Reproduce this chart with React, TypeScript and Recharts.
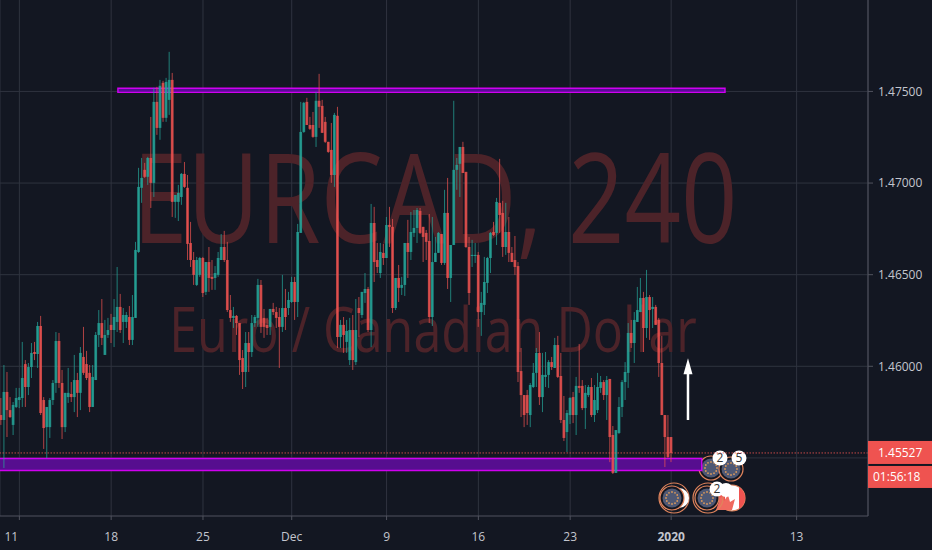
import React from 'react'
import { Bar, CartesianGrid, ComposedChart, ReferenceArea, ReferenceDot, ReferenceLine, XAxis, YAxis } from 'recharts'

const opens = [
  1.45734,1.45707,1.45860,1.45761,1.45680,1.45778,1.45816,1.45827,1.46012,1.45887,
  1.45996,1.46078,1.46067,1.46220,1.45816,1.45668,1.45668,1.45816,1.45909,1.46138,
  1.45909,1.45668,1.45832,1.45849,1.45832,1.45925,1.45855,1.46051,1.46012,1.45964,
  1.45778,1.45925,1.46171,1.46236,1.46062,1.46171,1.46226,1.46198,1.46242,1.46324,
  1.46242,1.46242,1.46269,1.46144,1.46264,1.46624,1.46974,1.47072,1.47034,1.47137,
  1.47001,1.47443,1.47301,1.47547,1.47356,1.47454,1.47563,1.46897,1.46897,1.46924,
  1.47050,1.46974,1.46673,1.46580,1.46444,1.46499,1.46591,1.46406,1.46569,1.46488,
  1.46482,1.46499,1.46580,1.46651,1.46580,1.46307,1.46264,1.46275,1.46236,1.46045,
  1.45969,1.46127,1.46078,1.46236,1.46264,1.46444,1.46264,1.46226,1.46215,1.46313,
  1.46296,1.46269,1.46215,1.46318,1.46318,1.46351,1.46460,1.46351,1.46728,1.47279,
  1.47443,1.47317,1.47317,1.47252,1.47449,1.47421,1.47334,1.47225,1.47181,1.47044,
  1.47367,1.46160,1.46226,1.46133,1.46034,1.46198,1.46023,1.46318,1.46280,1.46400,
  1.46422,1.46198,1.46782,1.46580,1.46509,1.46619,1.46591,1.46771,1.46761,1.46318,
  1.46482,1.46428,1.46444,1.46673,1.46624,1.46728,1.46755,1.46848,1.46761,1.46728,
  1.46684,1.46269,1.46569,1.46619,1.46722,1.46564,1.46837,1.46482,1.46662,1.47072,
  1.47105,1.47197,1.47061,1.46651,1.46602,1.46602,1.46608,1.46296,1.46335,1.46455,
  1.46591,1.46733,1.46728,1.46892,1.46837,1.46651,1.46733,1.46619,1.46580,1.46547,
  1.45974,1.45843,1.45843,1.45734,1.45887,1.45964,1.46073,1.45832,1.45942,1.45953,
  1.46023,1.45991,1.46116,1.45947,1.45707,1.45641,1.45734,1.45832,1.45734,1.45893,
  1.45893,1.45772,1.45843,1.45887,1.45734,1.45761,1.45882,1.45914,1.45843,1.45931,
  1.45625,1.45418,1.45636,1.45778,1.45914,1.45964,1.46182,1.46127,1.46242,1.46296,
  1.46373,1.46209,1.46378,1.46313,1.46324,1.46253,1.46018,1.45734,1.45614,1.45614,
]

const highs = [
  1.45827,1.46007,1.45969,1.45832,1.45805,1.45882,1.45882,1.46133,1.46034,1.46018,
  1.46127,1.46133,1.46242,1.46275,1.45832,1.45778,1.45827,1.45925,1.46187,1.46182,
  1.45980,1.45855,1.45991,1.45914,1.46062,1.45964,1.46105,1.46215,1.46084,1.46007,
  1.46007,1.46187,1.46307,1.46367,1.46253,1.46264,1.46286,1.46367,1.46542,1.46395,
  1.46318,1.46296,1.46329,1.46389,1.46679,1.47083,1.47137,1.47110,1.47143,1.47361,
  1.47520,1.47525,1.47563,1.47558,1.47574,1.47716,1.47601,1.46935,1.46990,1.47055,
  1.47115,1.47044,1.46788,1.46624,1.46597,1.46597,1.46597,1.46569,1.46651,1.46580,
  1.46547,1.46624,1.46722,1.46739,1.46679,1.46389,1.46324,1.46280,1.46236,1.46089,
  1.46187,1.46187,1.46280,1.46280,1.46477,1.46471,1.46313,1.46264,1.46313,1.46346,
  1.46324,1.46318,1.46499,1.46422,1.46406,1.46488,1.46488,1.46777,1.47443,1.47443,
  1.47465,1.47361,1.47388,1.47498,1.47596,1.47454,1.47361,1.47225,1.47328,1.47383,
  1.47416,1.46253,1.46269,1.46253,1.46264,1.46280,1.46367,1.46378,1.46406,1.46509,
  1.46433,1.46886,1.46870,1.46673,1.46673,1.46668,1.46815,1.46870,1.46804,1.46482,
  1.46553,1.46488,1.46673,1.46799,1.46842,1.46853,1.46864,1.46864,1.46761,1.46744,
  1.46831,1.46815,1.46706,1.46733,1.46722,1.46963,1.47028,1.46662,1.47449,1.47137,
  1.47197,1.47225,1.47061,1.46706,1.46690,1.46673,1.46624,1.46406,1.46597,1.46597,
  1.46733,1.46788,1.46919,1.47132,1.46903,1.46892,1.46815,1.46651,1.46711,1.46569,
  1.46100,1.45843,1.45871,1.45909,1.46018,1.46100,1.46187,1.46073,1.46078,1.46034,
  1.46051,1.46155,1.46166,1.46073,1.45838,1.45761,1.45832,1.45860,1.45942,1.46122,
  1.45925,1.45898,1.45898,1.45936,1.45898,1.45964,1.45947,1.45925,1.45947,1.45931,
  1.45674,1.45652,1.45832,1.45925,1.46023,1.46236,1.46253,1.46296,1.46433,1.46482,
  1.46406,1.46526,1.46389,1.46378,1.46335,1.46264,1.46166,1.45734,1.45734,1.45614,
]

const lows = [
  1.45680,1.45445,1.45614,1.45718,1.45625,1.45772,1.45772,1.45778,1.45778,1.45843,
  1.45936,1.46034,1.45991,1.45734,1.45549,1.45499,1.45609,1.45789,1.45855,1.45882,
  1.45603,1.45641,1.45800,1.45805,1.45750,1.45723,1.45761,1.45953,1.45925,1.45750,
  1.45778,1.45925,1.46105,1.46116,1.46062,1.46155,1.46127,1.46105,1.46187,1.46182,
  1.46127,1.46209,1.46116,1.46116,1.46264,1.46619,1.46892,1.47028,1.46990,1.46864,
  1.46924,1.47263,1.47236,1.47334,1.47334,1.47372,1.46815,1.46810,1.46793,1.46881,
  1.46974,1.46580,1.46542,1.46444,1.46438,1.46488,1.46378,1.46389,1.46406,1.46417,
  1.46417,1.46488,1.46580,1.46569,1.46296,1.46242,1.46209,1.46171,1.45953,1.45876,
  1.45887,1.45969,1.46051,1.46215,1.46215,1.46182,1.46155,1.46171,1.46171,1.46280,
  1.46209,1.45991,1.46187,1.46198,1.46280,1.46346,1.46253,1.46269,1.46728,1.47274,
  1.47317,1.47290,1.47247,1.47197,1.47301,1.47274,1.47219,1.47165,1.47001,1.46979,
  1.46100,1.46100,1.46073,1.46073,1.46007,1.45980,1.46007,1.46160,1.46264,1.46346,
  1.46187,1.46105,1.46460,1.46509,1.46482,1.46553,1.46591,1.46651,1.46291,1.46307,
  1.46351,1.46389,1.46384,1.46482,1.46580,1.46706,1.46673,1.46722,1.46569,1.46580,
  1.46236,1.46220,1.46569,1.46619,1.46553,1.46553,1.46422,1.46351,1.46662,1.46963,
  1.46924,1.47055,1.46646,1.46335,1.46542,1.46564,1.46215,1.46166,1.46280,1.46400,
  1.46509,1.46711,1.46662,1.46728,1.46597,1.46608,1.46569,1.46569,1.46499,1.45914,
  1.45723,1.45668,1.45680,1.45668,1.45882,1.45887,1.45789,1.45750,1.45887,1.45882,
  1.45980,1.45991,1.45936,1.45690,1.45592,1.45532,1.45685,1.45690,1.45625,1.45855,
  1.45761,1.45658,1.45832,1.45723,1.45696,1.45745,1.45855,1.45816,1.45707,1.45477,
  1.45412,1.45418,1.45630,1.45723,1.45816,1.45882,1.46100,1.46018,1.46242,1.46296,
  1.46078,1.46155,1.46144,1.46209,1.46226,1.45942,1.45734,1.45450,1.45499,1.45477,
]

const closes = [
  1.45707,1.45860,1.45761,1.45723,1.45789,1.45827,1.45832,1.45936,1.45887,1.45996,
  1.46073,1.46067,1.46220,1.45745,1.45663,1.45778,1.45816,1.45909,1.46138,1.45909,
  1.45668,1.45855,1.45855,1.45832,1.45925,1.45855,1.46073,1.45964,1.45936,1.45778,
  1.45942,1.46171,1.46236,1.46155,1.46171,1.46198,1.46198,1.46269,1.46324,1.46198,
  1.46280,1.46280,1.46144,1.46269,1.46635,1.46979,1.47028,1.47034,1.47137,1.47001,
  1.47443,1.47301,1.47531,1.47356,1.47552,1.47563,1.46897,1.46935,1.46946,1.47050,
  1.46979,1.46668,1.46580,1.46499,1.46580,1.46591,1.46400,1.46569,1.46482,1.46477,
  1.46509,1.46591,1.46651,1.46580,1.46307,1.46264,1.46275,1.46236,1.46034,1.45969,
  1.46127,1.46078,1.46236,1.46269,1.46444,1.46215,1.46215,1.46209,1.46313,1.46296,
  1.46264,1.46215,1.46318,1.46269,1.46362,1.46460,1.46351,1.46733,1.47279,1.47438,
  1.47317,1.47296,1.47252,1.47449,1.47416,1.47274,1.47225,1.47170,1.47044,1.47372,
  1.46160,1.46226,1.46171,1.46193,1.46198,1.46034,1.46198,1.46291,1.46406,1.46422,
  1.46198,1.46782,1.46569,1.46542,1.46624,1.46591,1.46771,1.46761,1.46318,1.46482,
  1.46428,1.46444,1.46673,1.46624,1.46733,1.46755,1.46853,1.46728,1.46706,1.46679,
  1.46269,1.46569,1.46619,1.46728,1.46564,1.46837,1.46482,1.46662,1.47072,1.47099,
  1.47197,1.47055,1.46651,1.46400,1.46608,1.46608,1.46296,1.46346,1.46460,1.46591,
  1.46728,1.46717,1.46897,1.46826,1.46651,1.46733,1.46619,1.46569,1.46542,1.45969,
  1.45843,1.45734,1.45745,1.45898,1.45964,1.46073,1.45832,1.45953,1.45953,1.46023,
  1.45996,1.46116,1.45942,1.45707,1.45609,1.45745,1.45827,1.45734,1.45893,1.45882,
  1.45772,1.45855,1.45887,1.45734,1.45816,1.45887,1.45914,1.45843,1.45925,1.45614,
  1.45418,1.45652,1.45778,1.45914,1.45969,1.46182,1.46127,1.46253,1.46307,1.46373,
  1.46209,1.46378,1.46307,1.46324,1.46226,1.46018,1.45734,1.45614,1.45505,1.45527,
]

const xTickValues = [6, 36, 66, 95, 126, 156, 186, 219, 260]
const xTickLabels = ['11', '18', '25', 'Dec', '9', '16', '23', '2020', '13']
const priceTicks = [1.46, 1.465, 1.47, 1.475]
const gridPrices = [1.455, 1.46, 1.465, 1.47, 1.475]
const lastPrice = 1.45527
const countdown = '01:56:18'
const euStars = [0, 1, 2, 3, 4, 5, 6, 7, 8, 9, 10, 11]

const candles = opens.map((open, i) => ({ i, open, close: closes[i], range: [lows[i], highs[i]] }))

const BG = '#131722'
const GREEN = '#26a69a'
const RED = '#ef5350'
const FONT = '"Open Sans", "Noto Sans", sans-serif'

const Candle = (props: any) => {
  const { x, y, width, height, payload } = props
  const [low, high] = payload.range
  const perUnit = height / (high - low || 1)
  const yOpen = y + (high - payload.open) * perUnit
  const yClose = y + (high - payload.close) * perUnit
  const up = payload.close >= payload.open
  const color = up ? GREEN : RED
  const mid = x + width / 2
  return (
    <g>
      <line x1={mid} x2={mid} y1={y} y2={y + height} stroke={color} strokeOpacity={0.72} strokeWidth={1} />
      <rect x={x} y={Math.min(yOpen, yClose)} width={width} height={Math.max(Math.abs(yClose - yOpen), 1)} fill={color} fillOpacity={0.8} />
    </g>
  )
}

const TimeTick = (props: any) => {
  const { x, y, payload, index } = props
  const label = xTickLabels[index]
  return (
    <text x={index === 0 ? x - 8 : x} y={y + 19} textAnchor="middle" fontFamily={FONT} fontSize={12} fontWeight={label === '2020' ? 700 : 400} fill="#c3c6ce">
      {label ?? payload.value}
    </text>
  )
}

const PriceTags = (props: any) => {
  const { cx, cy } = props
  return (
    <g fontFamily={FONT} fontSize={12} fill="#fff">
      <rect x={cx} y={cy - 12} width={64} height={23} fill={RED} />
      <text x={cx + 10} y={cy + 4}>{lastPrice.toFixed(5)}</text>
      <rect x={cx} y={cy + 13} width={64} height={22} fill={RED} />
      <text x={cx + 5} y={cy + 28}>{countdown}</text>
    </g>
  )
}

const EuCoin = ({ x, y, r }: { x: number; y: number; r: number }) => (
  <g>
    <circle cx={x} cy={y} r={r} fill={BG} stroke="#e0845c" strokeWidth={1.2} />
    <circle cx={x} cy={y} r={r - 2.5} fill="#4f5874" />
    {euStars.map((s) => (
      <circle key={s} cx={x + (r - 6) * Math.cos((s * Math.PI) / 6)} cy={y + (r - 6) * Math.sin((s * Math.PI) / 6)} r={0.9} fill="#d9985c" />
    ))}
  </g>
)

const Badge = ({ x, y, text }: { x: number; y: number; text: string }) => (
  <g>
    <circle cx={x} cy={y} r={7.5} fill="#fff" />
    <text x={x} y={y + 4} textAnchor="middle" fontFamily={FONT} fontSize={12} fill="#333">{text}</text>
  </g>
)

const App = () => (
  <div style={{ position: 'absolute', left: 0, top: 0, width: 932, height: 550, background: BG, overflow: 'hidden' }}>
    <ComposedChart width={932} height={550} data={candles} margin={{ top: 0, right: 0, bottom: 0, left: 0 }}>
      <CartesianGrid stroke="#2f333f" horizontalValues={gridPrices} />
      <text transform="translate(435 243) scale(0.797 1)" textAnchor="middle" fontFamily={FONT} fontSize={124} fill="#4c2329">EURCAD, 240</text>
      <text transform="translate(433 352) scale(0.81 1)" textAnchor="middle" fontFamily={FONT} fontSize={62} fill="#4c2329">Euro / Canadian Dollar</text>
      <XAxis
        dataKey="i"
        type="number"
        domain={[-0.33, 283.33]}
        allowDataOverflow
        ticks={xTickValues}
        interval={0}
        height={34}
        stroke="#50535e"
        tickSize={4}
        tick={<TimeTick />}
      />
      <YAxis
        orientation="right"
        width={64}
        domain={[1.45183, 1.47999]}
        allowDataOverflow
        ticks={priceTicks}
        interval={0}
        stroke="#50535e"
        tickSize={5}
        tickMargin={5}
        tickFormatter={(v: number) => v.toFixed(5)}
        tick={{ fill: '#c3c6ce', fontSize: 12, fontFamily: FONT }}
      />
      <ReferenceArea x1={38.2} x2={236.6} y1={1.47495} y2={1.47517} fill="#5a0c96" fillOpacity={1} stroke="#d000f0" strokeWidth={1.4} />
      <ReferenceArea x1={-3} x2={229} y1={1.45431} y2={1.45497} ifOverflow="hidden" fill="#560e8f" fillOpacity={1} stroke="#d000f0" strokeWidth={1.4} />
      <ReferenceLine y={lastPrice} stroke={RED} strokeOpacity={0.8} strokeDasharray="1.5 1.5" />
      <Bar dataKey="range" barSize={4} shape={<Candle />} isAnimationActive={false} />
      <ReferenceLine segment={[{ x: 224.5, y: 1.45707 }, { x: 224.5, y: 1.45958 }]} stroke="#fff" strokeWidth={2.5} />
      <ReferenceDot
        x={224.5}
        y={1.46}
        r={4}
        shape={(p: any) => <path d={`M${p.cx} ${p.cy - 8}L${p.cx + 4.5} ${p.cy + 8}L${p.cx - 4.5} ${p.cy + 8}Z`} fill="#fff" />}
      />
      <EuCoin x={711} y={468} r={12} />
      <EuCoin x={731} y={469} r={12} />
      <Badge x={720} y={458} text="2" />
      <Badge x={739} y={458} text="5" />
      <circle cx={674} cy={498} r={15} fill="none" stroke="#e0845c" strokeWidth={1.2} />
      <circle cx={679} cy={498} r={10} fill="#fff" />
      <EuCoin x={672} y={498} r={12} />
      <circle cx={732} cy={498} r={13} fill="#fff" stroke="#e0845c" strokeWidth={1.2} />
      <path d="M719 498a13 13 0 0 0 6 11v-22a13 13 0 0 0 -6 11zM739 487a13 13 0 0 1 0 22z" fill={RED} />
      <path d="M716 510l5 -14l3 5l4 -6l2 7l5 -3l-3 11z" fill="#ef6a5f" />
      <circle cx={708} cy={498} r={15} fill="none" stroke="#e0845c" strokeWidth={1.2} />
      <EuCoin x={707} y={498} r={12} />
      <circle cx={726} cy={490} r={7} fill="#fff" />
      <Badge x={717} y={489} text="2" />
      <ReferenceDot x={283.33} y={lastPrice} r={1} shape={<PriceTags />} />
    </ComposedChart>
  </div>
)

export default App
